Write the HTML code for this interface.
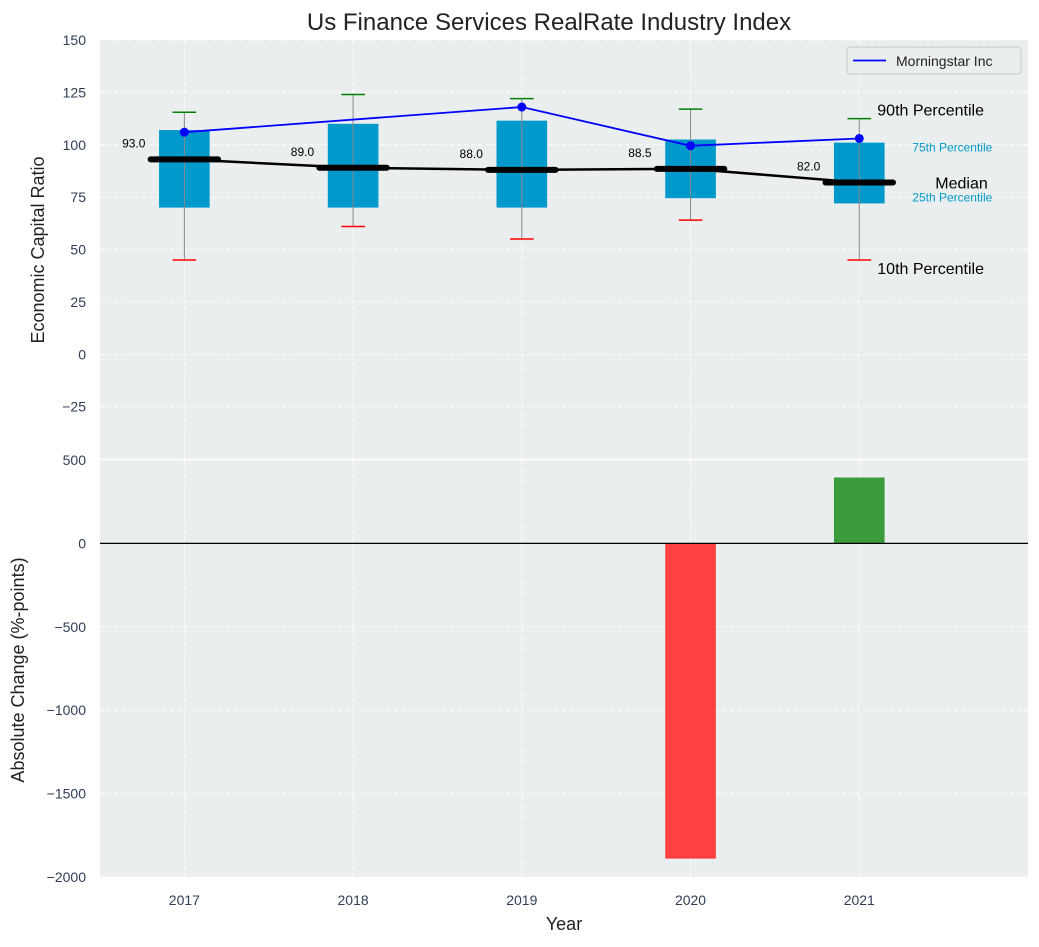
<!DOCTYPE html>
<html><head><meta charset="utf-8"><style>
body{margin:0;background:#fff;}
svg text{font-family:"Liberation Sans","DejaVu Sans",sans-serif;}
</style></head><body>
<svg id="c" width="1039" height="942" xmlns="http://www.w3.org/2000/svg"></svg>
<script>
const years=[2017,2018,2019,2020,2021];
const p10=[45,61,55,64,45];
const p25=[70,70,70,74.5,72];
const p50=[93,89,88,88.5,82];
const p75=[107,110,111.5,102.5,101];
const p90=[115.5,124,122,117,112.5];
const morningstar=[106,null,118,99.5,103];
const changes=[null,null,null,-1890,395];
const topTicks=[150,125,100,75,50,25,0,-25];
const botTicks=[500,0,-500,-1000,-1500,-2000];

const NS="http://www.w3.org/2000/svg";
const svg=document.getElementById('c');
function el(t,a,p){const e=document.createElementNS(NS,t);for(const k in a)e.setAttribute(k,a[k]);(p||svg).appendChild(e);return e;}
const L=100,R=1028;
const x=v=>L+(v-2016.5)*(R-L)/5.5;
const T0=40,T1=459,B0=460,B1=877;
const yt=v=>T0+(150-v)*(T1-T0)/200;
const yb=v=>B0+(500-v)*(B1-B0)/2500;

let r=el('rect',{x:L,y:T0,width:R-L,height:T1-T0,fill:'#eaeeee'});

r=el('rect',{x:L,y:B0,width:R-L,height:B1-B0,fill:'#eaeeee'});


const gridStyle={stroke:'#fff','stroke-dasharray':'4,3','stroke-width':1};
years.forEach(yv=>{
  el('line',Object.assign({x1:x(yv),x2:x(yv),y1:T0,y2:T1},gridStyle));
  el('line',Object.assign({x1:x(yv),x2:x(yv),y1:B0,y2:B1},gridStyle));
  let t=el('text',{x:x(yv),y:905,'text-anchor':'middle','font-size':14,fill:'#2e3e55'});t.textContent=yv;
  
});
topTicks.forEach(v=>{
  el('line',Object.assign({x1:L,x2:R,y1:yt(v),y2:yt(v)},gridStyle));
  let t=el('text',{x:L-14,y:yt(v)+5,'text-anchor':'end','font-size':14,fill:'#2e3e55'});t.textContent=v<0?'\u2212'+(-v):v;
  
});
botTicks.forEach(v=>{
  el('line',Object.assign({x1:L,x2:R,y1:yb(v),y2:yb(v)},gridStyle));
  let t=el('text',{x:L-14,y:yb(v)+5,'text-anchor':'end','font-size':14,fill:'#2e3e55'});t.textContent=v<0?'\u2212'+(-v):v;
  
});
el('line',{x1:L,x2:R,y1:459.5,y2:459.5,stroke:'#fff','stroke-width':2});

const bw=0.3,cw=0.07,mw=0.2;
years.forEach((yv,i)=>{
  let b=el('rect',{x:x(yv-bw/2),y:yt(p75[i]),width:x(yv+bw/2)-x(yv-bw/2),height:yt(p25[i])-yt(p75[i]),fill:'#0099cc'});
  
  el('line',{x1:x(yv),x2:x(yv),y1:yt(p10[i]),y2:yt(p90[i]),stroke:'#888','stroke-width':1});
  let c=el('line',{x1:x(yv-cw),x2:x(yv+cw),y1:yt(p10[i]),y2:yt(p10[i]),stroke:'red','stroke-width':1.5});
  
  c=el('line',{x1:x(yv-cw),x2:x(yv+cw),y1:yt(p90[i]),y2:yt(p90[i]),stroke:'green','stroke-width':1.5});
  
});
el('polyline',{points:years.map((yv,i)=>x(yv)+','+yt(p50[i])).join(' '),fill:'none',stroke:'#000','stroke-width':2.5});
years.forEach((yv,i)=>{
  let m=el('line',{x1:x(yv-mw),x2:x(yv+mw),y1:yt(p50[i]),y2:yt(p50[i]),stroke:'#000','stroke-width':6,'stroke-linecap':'round'});
  
  let t=el('text',{x:x(yv-0.3),y:yt(p50[i])-12,'text-anchor':'middle','font-size':12,fill:'#000'});t.textContent=p50[i].toFixed(1);
  
});
const mp=years.map((yv,i)=>morningstar[i]==null?null:[x(yv),yt(morningstar[i])]).filter(p=>p);
let ml=el('polyline',{points:mp.map(p=>p.join(',')).join(' '),fill:'none',stroke:'blue','stroke-width':1.8});

mp.forEach(p=>{let c=el('circle',{cx:p[0],cy:p[1],r:4.5,fill:'blue'});});

const last=years.length-1,ax=x(years[last]);
function ann(txt,xx,yy,size,col,name,anchor){let t=el('text',{x:xx,y:yy,'font-size':size,fill:col,'text-anchor':anchor||'start'});t.textContent=txt;}
ann('90th Percentile',ax+18,yt(p90[last])-3,16,'#000','p90-annotation');
ann('75th Percentile',ax+53,yt(p75[last])+9,12,'#0099cc','p75-annotation');
ann('Median',ax+76,yt(p50[last])+6,16,'#000','median-annotation');
ann('25th Percentile',ax+53,yt(p25[last])-2,12,'#0099cc','p25-annotation');
ann('10th Percentile',ax+18,yt(p10[last])+14,16,'#000','p10-annotation');

years.forEach((yv,i)=>{
  const v=changes[i];if(v==null)return;
  let b=el('rect',{x:x(yv-0.15),y:Math.min(yb(v),yb(0)),width:x(yv+0.15)-x(yv-0.15),height:Math.abs(yb(v)-yb(0)),fill:v<0?'#ff4040':'#3a9c3a'});
  
});
el('line',{x1:L,x2:R,y1:yb(0),y2:yb(0),stroke:'#000','stroke-width':1.2});

let lg=el('g',{});
el('rect',{x:847,y:47,width:174,height:27,rx:3,fill:'#eaeeee',stroke:'#ccc'},lg);
el('line',{x1:853,x2:886,y1:60.5,y2:60.5,stroke:'blue','stroke-width':1.8},lg);
let lt=el('text',{x:896,y:66,'font-size':14,fill:'#222'},lg);lt.textContent='Morningstar Inc';

ann('Us Finance Services RealRate Industry Index',549,30,24,'#222','chart-title','middle');
ann('Year',564,930,18,'#222','x-axis-title','middle');
let t=el('text',{x:0,y:0,'font-size':18,fill:'#222','text-anchor':'middle',transform:'translate(44,250) rotate(-90)'});t.textContent='Economic Capital Ratio';

t=el('text',{x:0,y:0,'font-size':18,fill:'#222','text-anchor':'middle',transform:'translate(24,670) rotate(-90)'});t.textContent='Absolute Change (%-points)';

</script>
</body></html>
